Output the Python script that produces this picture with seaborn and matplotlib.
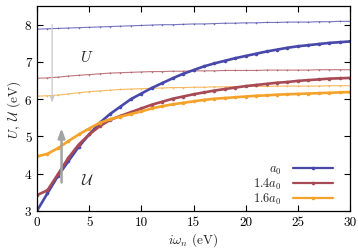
import numpy as np
import pandas as pd
import matplotlib
matplotlib.use("Agg")
import matplotlib.pyplot as plt
import seaborn as sns

# ---- data ----
omega = list(range(0, 31))
labels = ["$a_0$", "$1.4a_0$", "$1.6a_0$"]
colors = ["#4848aa", "#a84a55", "#f5a22a"]

screened_a0 = [3.00, 3.47, 3.93, 4.33, 4.72, 5.05, 5.36, 5.60, 5.80, 6.00, 6.15,
               6.30, 6.43, 6.56, 6.68, 6.78, 6.88, 6.96, 7.03, 7.10, 7.16,
               7.22, 7.28, 7.33, 7.38, 7.42, 7.45, 7.48, 7.51, 7.53, 7.55]
screened_14 = [3.42, 3.55, 3.98, 4.42, 4.78, 5.05, 5.27, 5.44, 5.55, 5.65, 5.75,
               5.85, 5.93, 6.01, 6.07, 6.13, 6.18, 6.23, 6.27, 6.31, 6.35,
               6.38, 6.41, 6.44, 6.46, 6.49, 6.51, 6.53, 6.55, 6.56, 6.57]
screened_16 = [4.46, 4.53, 4.68, 4.87, 5.05, 5.21, 5.36, 5.46, 5.53, 5.60, 5.67,
               5.75, 5.81, 5.86, 5.90, 5.94, 5.98, 6.01, 6.03, 6.05, 6.07,
               6.09, 6.10, 6.12, 6.13, 6.14, 6.15, 6.16, 6.17, 6.18, 6.19]

bare_a0 = [7.88, 7.89, 7.90, 7.91, 7.92, 7.93, 7.94, 7.95, 7.96, 7.97, 7.98,
           7.99, 8.00, 8.00, 8.01, 8.02, 8.02, 8.03, 8.04, 8.04, 8.05,
           8.05, 8.06, 8.06, 8.07, 8.07, 8.07, 8.08, 8.08, 8.09, 8.09]
bare_14 = [6.56, 6.57, 6.59, 6.62, 6.64, 6.66, 6.68, 6.70, 6.71, 6.72, 6.73,
           6.74, 6.74, 6.75, 6.75, 6.76, 6.76, 6.76, 6.77, 6.77, 6.77,
           6.77, 6.78, 6.78, 6.78, 6.78, 6.78, 6.79, 6.79, 6.79, 6.79]
bare_16 = [6.08, 6.09, 6.11, 6.14, 6.17, 6.20, 6.22, 6.24, 6.26, 6.27, 6.28,
           6.29, 6.30, 6.31, 6.31, 6.32, 6.32, 6.33, 6.33, 6.34, 6.34,
           6.34, 6.34, 6.35, 6.35, 6.35, 6.35, 6.35, 6.36, 6.36, 6.36]

xticks = [0, 5, 10, 15, 20, 25, 30]
yticks = [3, 4, 5, 6, 7, 8]

# ---- style ----
sns.set_style("ticks")
plt.rcParams["font.family"] = ["cmr10", "DejaVu Serif"]
plt.rcParams["mathtext.fontset"] = "cm"
plt.rcParams["axes.formatter.use_mathtext"] = True
plt.rcParams["axes.unicode_minus"] = False

fig = plt.figure(figsize=(3.58, 2.53), dpi=100)
ax = fig.add_axes([0.1034, 0.163, 0.8743, 0.809])

screened = [screened_a0, screened_14, screened_16]
bare = [bare_a0, bare_14, bare_16]

for vals, col in zip(bare, colors):
    df = pd.DataFrame({"w": omega, "v": vals})
    sns.lineplot(data=df, x="w", y="v", ax=ax, color=col, lw=0.8, alpha=0.75,
                 marker="o", markersize=1.2, markeredgewidth=0)

handles = []
for vals, col, lab in zip(screened, colors, labels):
    df = pd.DataFrame({"w": omega, "v": vals})
    sns.lineplot(data=df, x="w", y="v", ax=ax, color=col, lw=1.9,
                 marker="o", markersize=2.6, markeredgewidth=0)
    h, = ax.plot([], [], color=col, lw=1.6, marker="o", markersize=2.6,
                 markeredgewidth=0, label=lab)
    handles.append(h)

# arrows
ax.annotate("", xy=(1.45, 5.9), xytext=(1.45, 8.0),
            arrowprops=dict(arrowstyle="-|>,head_length=0.35,head_width=0.12",
                            color="#c8c8c8", lw=0.9, shrinkA=0, shrinkB=0))
ax.annotate("", xy=(2.35, 5.22), xytext=(2.35, 3.76),
            arrowprops=dict(arrowstyle="-|>,head_length=0.55,head_width=0.2",
                            color="#a3a3a3", lw=1.8, shrinkA=0, shrinkB=0))
ax.text(4.8, 7.15, "$U$", fontsize=11, ha="center", va="center")
ax.text(4.8, 3.85, r"$\mathcal{U}$", fontsize=11, ha="center", va="center")

ax.set_xlim(0, 30)
ax.set_ylim(3, 8.5)
ax.set_xticks(xticks)
ax.set_yticks(yticks)
ax.set_xticklabels([str(t) for t in xticks])
ax.set_yticklabels([str(t) for t in yticks])
ax.tick_params(direction="in", length=4, width=0.8, top=True, right=True,
               labelsize=9.5, pad=4, colors="black")
for s in ax.spines.values():
    s.set_color("black")
    s.set_linewidth(0.9)
ax.set_xlabel(r"$i\omega_n$ (eV)", fontsize=9.5, labelpad=1)
ax.set_ylabel(r"$U,\ \mathcal{U}$ (eV)", fontsize=9.5, labelpad=1)

ax.legend(handles=handles, loc="lower right", bbox_to_anchor=(0.97, -0.015),
          frameon=False, markerfirst=False, fontsize=9, handlelength=3.2,
          labelspacing=0.0, handletextpad=0.9, borderaxespad=0.2)

fig.savefig("out.png", dpi=100)
